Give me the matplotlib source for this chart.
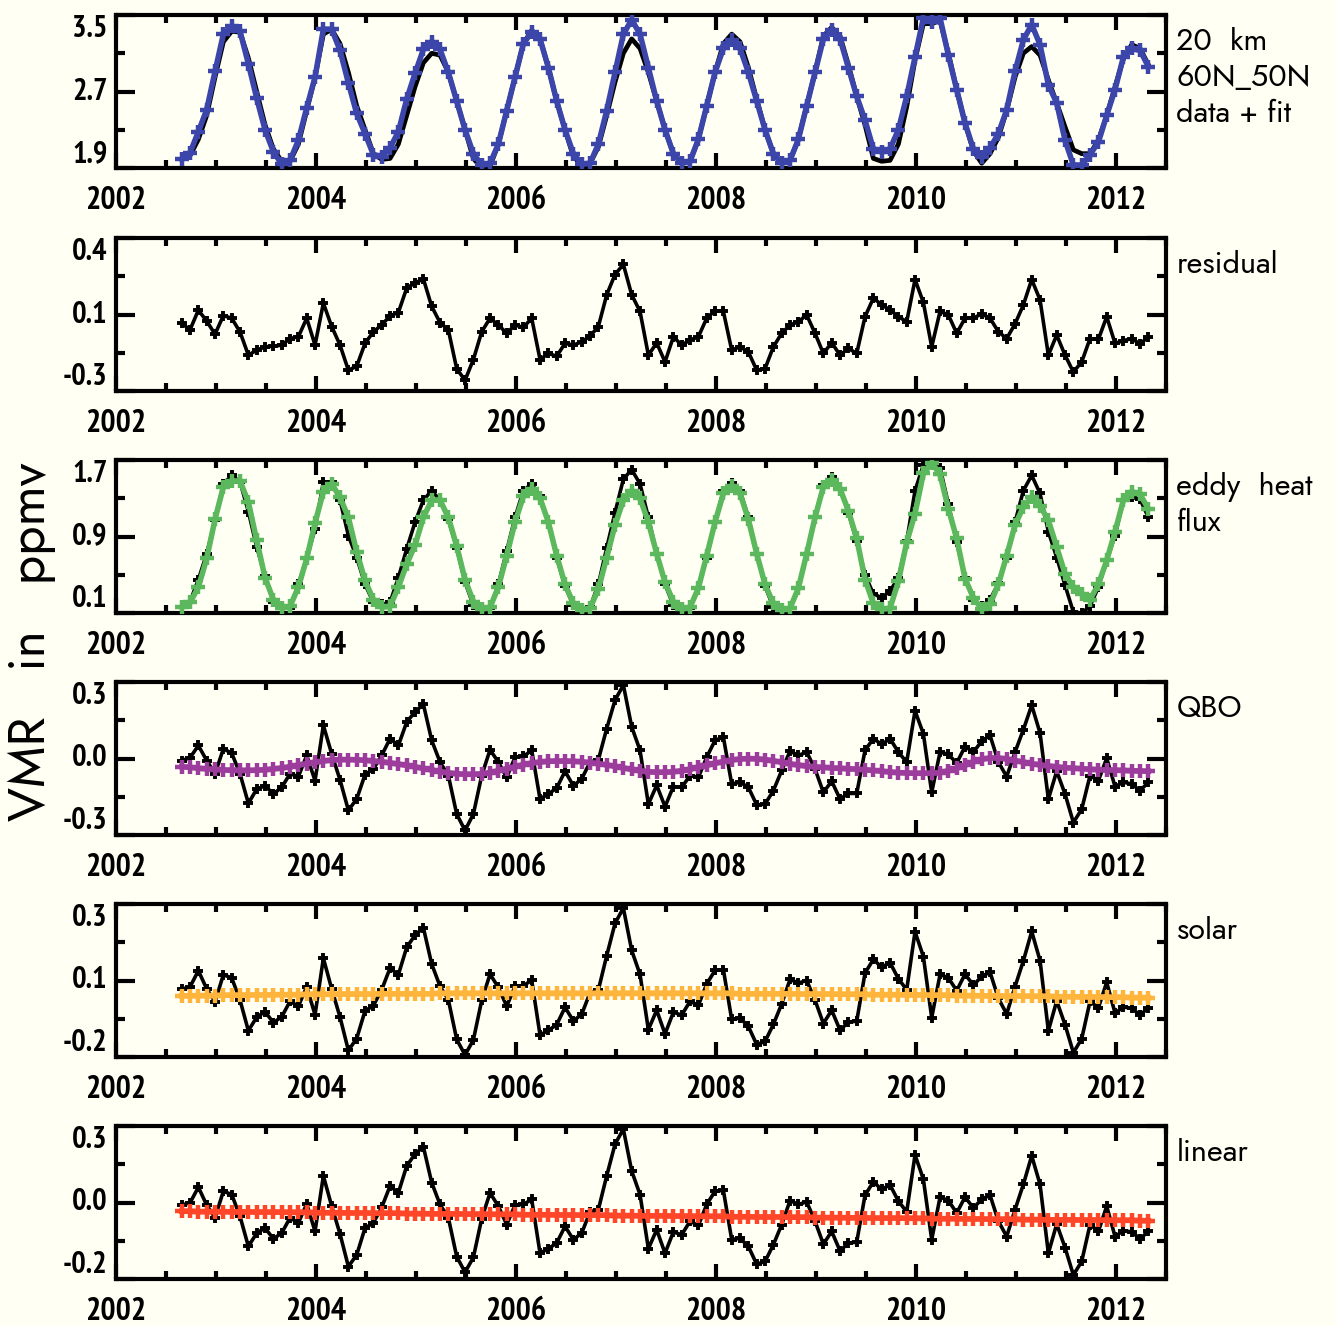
"""Multi-panel regression of 20 km VMR at 60N-50N: data, fit and partial residuals."""
import matplotlib
matplotlib.use("Agg")
import matplotlib.pyplot as plt
import matplotlib.transforms as mtransforms
from matplotlib.ticker import FixedLocator, MultipleLocator, NullFormatter, FormatStrFormatter
import numpy as np

LABEL_FONT = ["PT Sans Narrow", "Fira Sans Condensed", "Barlow Condensed", "DejaVu Sans"]
NOTE_FONT = ["Jost", "Archivo Narrow", "DejaVu Sans"]
plt.rcParams["font.family"] = LABEL_FONT

# ── data (monthly, Aug/Sep 2002 .. May 2012) ───────────────────────
start_year = 2002.657
n_months = 117
dates = start_year + np.arange(n_months) / 12.0

data_20km = [
    1.99, 2.03, 2.20, 2.45, 2.85, 3.22, 3.33, 3.32, 3.05, 2.70,
    2.35, 2.10, 1.97, 1.97, 2.15, 2.50, 2.85, 3.30, 3.35, 3.20,
    2.90, 2.55, 2.30, 2.05, 1.99, 2.00, 2.15, 2.45, 2.75, 3.00,
    3.10, 3.08, 2.90, 2.60, 2.30, 2.00, 1.90, 1.92, 2.15, 2.50,
    2.85, 3.20, 3.34, 3.25, 2.95, 2.60, 2.30, 2.02, 1.93, 1.95,
    2.12, 2.45, 2.80, 3.10, 3.25, 3.15, 2.90, 2.60, 2.30, 2.05,
    1.95, 1.97, 2.20, 2.55, 2.90, 3.20, 3.30, 3.22, 2.95, 2.62,
    2.30, 2.05, 1.95, 1.98, 2.20, 2.55, 2.90, 3.28, 3.37, 3.28,
    2.98, 2.65, 2.35, 2.00, 1.97, 1.98, 2.15, 2.54, 3.03, 3.41,
    3.41, 3.44, 3.10, 2.72, 2.37, 2.08, 1.95, 2.05, 2.22, 2.50,
    2.85, 3.10, 3.17, 3.08, 2.82, 2.58, 2.33, 2.09, 2.05, 2.05,
    2.19, 2.45, 2.75, 3.04, 3.19, 3.15, 2.98,
]
fit_20km = [
    1.99, 2.06, 2.28, 2.51, 2.91, 3.30, 3.38, 3.33, 2.99, 2.63,
    2.30, 2.07, 1.94, 1.98, 2.19, 2.53, 2.85, 3.35, 3.35, 3.13,
    2.79, 2.47, 2.26, 2.04, 2.02, 2.11, 2.28, 2.62, 2.89, 3.14,
    3.22, 3.14, 2.90, 2.60, 2.30, 2.05, 1.93, 1.95, 2.15, 2.50,
    2.85, 3.20, 3.32, 3.25, 2.95, 2.60, 2.30, 2.05, 1.94, 1.95,
    2.15, 2.50, 2.90, 3.30, 3.45, 3.30, 2.95, 2.60, 2.30, 2.05,
    1.95, 1.97, 2.20, 2.55, 2.90, 3.15, 3.24, 3.15, 2.90, 2.60,
    2.30, 2.05, 1.95, 1.98, 2.20, 2.55, 2.90, 3.25, 3.34, 3.25,
    2.95, 2.65, 2.40, 2.10, 2.07, 2.10, 2.30, 2.65, 3.06, 3.47,
    3.43, 3.47, 3.08, 2.72, 2.37, 2.10, 2.02, 2.11, 2.26, 2.51,
    2.91, 3.24, 3.40, 3.19, 2.77, 2.58, 2.19, 1.93, 1.93, 2.04,
    2.17, 2.45, 2.72, 3.06, 3.15, 3.13, 2.96,
]
residual = [
    0.010, -0.020, 0.070, 0.020, -0.040, 0.045, 0.033, -0.030, -0.136, -0.113,
    -0.098, -0.095, -0.090, -0.060, -0.052, 0.033, -0.090, 0.102, -0.005, -0.090,
    -0.205, -0.187, -0.082, -0.029, 0.002, 0.044, 0.059, 0.171, 0.194, 0.213,
    0.087, 0.013, -0.021, -0.198, -0.251, -0.156, -0.029, 0.033, 0.002, -0.036,
    0.002, -0.009, 0.033, -0.156, -0.128, -0.141, -0.082, -0.090, -0.075, -0.049,
    -0.005, 0.140, 0.233, 0.279, 0.140, 0.064, -0.136, -0.080, -0.167, -0.052,
    -0.090, -0.067, -0.052, 0.033, 0.068, 0.064, -0.113, -0.098, -0.121, -0.205,
    -0.198, -0.098, -0.036, 0.002, 0.017, 0.048, -0.036, -0.128, -0.079, -0.136,
    -0.105, -0.128, 0.040, 0.125, 0.094, 0.071, 0.040, 0.017, 0.210, 0.105,
    -0.098, 0.064, 0.048, -0.036, 0.033, 0.033, 0.053, 0.033, -0.029, -0.060,
    0.007, 0.094, 0.210, 0.117, -0.136, -0.044, -0.136, -0.213, -0.167, -0.060,
    -0.064, 0.040, -0.082, -0.070, -0.060, -0.085, -0.052,
]
eddy_partial = [
    0.16, 0.22, 0.45, 0.72, 1.07, 1.45, 1.54, 1.47, 1.16, 0.79,
    0.49, 0.21, 0.17, 0.15, 0.40, 0.67, 0.98, 1.47, 1.47, 1.28,
    0.91, 0.68, 0.40, 0.21, 0.19, 0.21, 0.47, 0.77, 1.05, 1.28,
    1.38, 1.28, 1.08, 0.78, 0.42, 0.18, 0.12, 0.15, 0.40, 0.75,
    1.10, 1.38, 1.45, 1.32, 1.05, 0.68, 0.38, 0.18, 0.12, 0.16,
    0.40, 0.78, 1.15, 1.50, 1.60, 1.45, 1.10, 0.72, 0.40, 0.18,
    0.12, 0.15, 0.36, 0.68, 1.05, 1.38, 1.46, 1.38, 1.10, 0.72,
    0.38, 0.16, 0.11, 0.15, 0.36, 0.72, 1.10, 1.44, 1.52, 1.40,
    1.15, 0.85, 0.50, 0.30, 0.26, 0.33, 0.47, 0.85, 1.38, 1.65,
    1.67, 1.62, 1.24, 0.84, 0.47, 0.24, 0.17, 0.24, 0.41, 0.68,
    1.05, 1.38, 1.54, 1.35, 0.95, 0.68, 0.39, 0.11, 0.10, 0.17,
    0.37, 0.65, 0.91, 1.28, 1.31, 1.29, 1.10,
]
eddy_fit = [
    0.16, 0.21, 0.37, 0.67, 1.08, 1.42, 1.48, 1.48, 1.26, 0.86,
    0.47, 0.24, 0.15, 0.17, 0.37, 0.67, 1.04, 1.37, 1.45, 1.31,
    1.10, 0.74, 0.44, 0.24, 0.16, 0.17, 0.37, 0.61, 0.81, 1.10,
    1.28, 1.28, 1.10, 0.80, 0.45, 0.22, 0.14, 0.16, 0.37, 0.70,
    1.05, 1.32, 1.40, 1.30, 1.05, 0.70, 0.40, 0.20, 0.13, 0.15,
    0.35, 0.68, 1.02, 1.28, 1.38, 1.30, 1.05, 0.72, 0.42, 0.22,
    0.14, 0.16, 0.36, 0.70, 1.05, 1.35, 1.43, 1.35, 1.08, 0.72,
    0.40, 0.20, 0.13, 0.15, 0.36, 0.72, 1.10, 1.42, 1.49, 1.40,
    1.17, 0.88, 0.45, 0.20, 0.14, 0.15, 0.43, 0.84, 1.14, 1.56,
    1.67, 1.55, 1.19, 0.88, 0.46, 0.26, 0.14, 0.19, 0.40, 0.70,
    1.02, 1.21, 1.31, 1.22, 1.07, 0.79, 0.51, 0.37, 0.30, 0.24,
    0.40, 0.65, 0.95, 1.28, 1.37, 1.34, 1.19,
]
qbo_partial = [
    -0.008, 0.003, 0.051, -0.008, -0.060, 0.038, 0.021, -0.060, -0.176, -0.120,
    -0.107, -0.139, -0.113, -0.060, -0.071, 0.012, -0.087, 0.130, 0.018, -0.084,
    -0.203, -0.159, -0.063, -0.041, 0.012, 0.078, 0.051, 0.143, 0.183, 0.213,
    0.071, -0.014, -0.067, -0.218, -0.282, -0.218, -0.067, 0.034, -0.014, -0.074,
    0.005, 0.008, 0.032, -0.159, -0.139, -0.116, -0.050, -0.107, -0.080, -0.014,
    -0.005, 0.117, 0.229, 0.288, 0.124, 0.032, -0.179, -0.105, -0.189, -0.110,
    -0.113, -0.067, -0.074, 0.005, 0.071, 0.084, -0.100, -0.093, -0.113, -0.182,
    -0.179, -0.126, -0.047, 0.029, 0.012, 0.025, -0.041, -0.133, -0.089, -0.159,
    -0.137, -0.137, 0.032, 0.078, 0.055, 0.078, 0.025, -0.014, 0.187, 0.097,
    -0.133, 0.025, 0.016, -0.018, 0.047, 0.025, 0.068, 0.091, -0.014, -0.071,
    0.025, 0.113, 0.209, 0.100, -0.159, -0.050, -0.139, -0.251, -0.199, -0.067,
    -0.087, 0.001, -0.110, -0.093, -0.100, -0.126, -0.093,
]
qbo_fit = [
    -0.032, -0.035, -0.038, -0.041, -0.043, -0.045, -0.046, -0.047, -0.047, -0.046,
    -0.044, -0.041, -0.037, -0.032, -0.026, -0.020, -0.015, -0.010, -0.006, -0.004,
    -0.004, -0.005, -0.007, -0.010, -0.013, -0.017, -0.022, -0.027, -0.033, -0.039,
    -0.045, -0.051, -0.056, -0.060, -0.062, -0.062, -0.060, -0.055, -0.048, -0.040,
    -0.032, -0.024, -0.018, -0.014, -0.011, -0.010, -0.010, -0.011, -0.013, -0.016,
    -0.020, -0.025, -0.031, -0.037, -0.043, -0.048, -0.052, -0.054, -0.054, -0.052,
    -0.048, -0.042, -0.035, -0.027, -0.019, -0.012, -0.006, -0.002, 0.000, -0.001,
    -0.004, -0.009, -0.015, -0.021, -0.026, -0.030, -0.033, -0.035, -0.037, -0.039,
    -0.040, -0.042, -0.044, -0.047, -0.050, -0.053, -0.055, -0.057, -0.058, -0.058,
    -0.058, -0.055, -0.048, -0.038, -0.026, -0.013, -0.003, 0.002, 0.002, -0.002,
    -0.008, -0.014, -0.020, -0.025, -0.029, -0.033, -0.036, -0.038, -0.040, -0.042,
    -0.044, -0.045, -0.046, -0.047, -0.048, -0.049, -0.050,
]
solar_partial = [
    0.035, 0.043, 0.099, 0.036, -0.009, 0.085, 0.074, -0.003, -0.109, -0.062,
    -0.043, -0.081, -0.061, -0.007, -0.024, 0.043, -0.054, 0.142, 0.036, -0.062,
    -0.177, -0.136, -0.040, -0.022, 0.033, 0.108, 0.085, 0.180, 0.222, 0.248,
    0.122, 0.045, -0.002, -0.139, -0.193, -0.141, -0.004, 0.087, 0.041, -0.024,
    0.045, 0.047, 0.066, -0.124, -0.108, -0.088, -0.028, -0.075, -0.052, 0.023,
    0.032, 0.151, 0.263, 0.316, 0.169, 0.086, -0.105, -0.038, -0.120, -0.045,
    -0.055, -0.007, -0.021, 0.053, 0.100, 0.103, -0.070, -0.065, -0.094, -0.157,
    -0.146, -0.087, -0.016, 0.069, 0.056, 0.065, -0.003, -0.084, -0.038, -0.107,
    -0.079, -0.076, 0.091, 0.138, 0.111, 0.127, 0.071, 0.033, 0.234, 0.148,
    -0.064, 0.086, 0.074, 0.030, 0.087, 0.049, 0.079, 0.094, 0.003, -0.051,
    0.044, 0.133, 0.235, 0.134, -0.109, -0.006, -0.088, -0.185, -0.137, -0.007,
    -0.030, 0.059, -0.048, -0.027, -0.031, -0.055, -0.029,
]
solar_fit = [
    0.012, 0.012, 0.013, 0.013, 0.013, 0.014, 0.014, 0.014, 0.015, 0.015,
    0.015, 0.016, 0.016, 0.016, 0.016, 0.017, 0.017, 0.017, 0.017, 0.018,
    0.018, 0.018, 0.018, 0.018, 0.019, 0.019, 0.019, 0.019, 0.019, 0.019,
    0.019, 0.020, 0.020, 0.020, 0.020, 0.020, 0.020, 0.020, 0.020, 0.020,
    0.020, 0.020, 0.020, 0.020, 0.020, 0.020, 0.020, 0.020, 0.020, 0.020,
    0.020, 0.020, 0.020, 0.020, 0.020, 0.020, 0.020, 0.020, 0.020, 0.020,
    0.020, 0.020, 0.020, 0.020, 0.020, 0.020, 0.020, 0.019, 0.019, 0.019,
    0.019, 0.019, 0.019, 0.019, 0.018, 0.018, 0.018, 0.018, 0.018, 0.017,
    0.017, 0.017, 0.017, 0.016, 0.016, 0.016, 0.016, 0.015, 0.015, 0.015,
    0.014, 0.014, 0.014, 0.013, 0.013, 0.013, 0.012, 0.012, 0.012, 0.011,
    0.011, 0.011, 0.010, 0.010, 0.010, 0.009, 0.009, 0.009, 0.008, 0.008,
    0.008, 0.007, 0.007, 0.007, 0.006, 0.006, 0.006,
]
linear_partial = [
    0.021, 0.029, 0.084, 0.021, -0.024, 0.070, 0.058, -0.019, -0.125, -0.078,
    -0.060, -0.098, -0.078, -0.024, -0.042, 0.025, -0.072, 0.124, 0.017, -0.081,
    -0.196, -0.155, -0.060, -0.042, 0.013, 0.088, 0.064, 0.159, 0.201, 0.227,
    0.100, 0.023, -0.024, -0.161, -0.216, -0.164, -0.027, 0.064, 0.017, -0.048,
    0.021, 0.023, 0.041, -0.149, -0.133, -0.113, -0.054, -0.101, -0.078, -0.003,
    0.005, 0.124, 0.236, 0.289, 0.141, 0.058, -0.133, -0.066, -0.149, -0.074,
    -0.084, -0.036, -0.051, 0.023, 0.070, 0.073, -0.101, -0.096, -0.125, -0.188,
    -0.178, -0.119, -0.048, 0.037, 0.023, 0.032, -0.036, -0.117, -0.072, -0.141,
    -0.113, -0.110, 0.056, 0.103, 0.076, 0.092, 0.035, -0.003, 0.198, 0.112,
    -0.101, 0.049, 0.037, -0.007, 0.049, 0.011, 0.041, 0.056, -0.036, -0.090,
    0.005, 0.094, 0.195, 0.094, -0.149, -0.046, -0.129, -0.226, -0.178, -0.048,
    -0.072, 0.017, -0.090, -0.069, -0.074, -0.098, -0.072,
]
linear_fit = [
    -0.001, -0.001, -0.002, -0.002, -0.002, -0.002, -0.003, -0.003, -0.003, -0.004,
    -0.004, -0.004, -0.004, -0.005, -0.005, -0.005, -0.006, -0.006, -0.006, -0.006,
    -0.007, -0.007, -0.007, -0.008, -0.008, -0.008, -0.008, -0.009, -0.009, -0.009,
    -0.010, -0.010, -0.010, -0.010, -0.011, -0.011, -0.011, -0.012, -0.012, -0.012,
    -0.012, -0.013, -0.013, -0.013, -0.013, -0.014, -0.014, -0.014, -0.015, -0.015,
    -0.015, -0.015, -0.016, -0.016, -0.016, -0.017, -0.017, -0.017, -0.017, -0.018,
    -0.018, -0.018, -0.019, -0.019, -0.019, -0.019, -0.020, -0.020, -0.020, -0.021,
    -0.021, -0.021, -0.021, -0.022, -0.022, -0.022, -0.023, -0.023, -0.023, -0.023,
    -0.024, -0.024, -0.024, -0.025, -0.025, -0.025, -0.025, -0.026, -0.026, -0.026,
    -0.027, -0.027, -0.027, -0.027, -0.028, -0.028, -0.028, -0.029, -0.029, -0.029,
    -0.029, -0.030, -0.030, -0.030, -0.031, -0.031, -0.031, -0.031, -0.032, -0.032,
    -0.032, -0.033, -0.033, -0.033, -0.033, -0.034, -0.034,
]

# ── panel settings ─────────────────────────────────────────────────
BG = "#fffff4"
BLUE = "#3c46aa"
GREEN = "#5cb85c"
PURPLE = "#9c3c9c"
ORANGE = "#ffb43c"
RED = "#ff4628"

panels = [
    # ylim, tick labels (bottom, mid, top), note lines
    ((1.9, 3.5), ("1.9", "2.7", "3.5"), ["20  km", "60N_50N", "data + fit"]),
    ((-0.3, 0.4), ("-0.3", "0.1", "0.4"), ["residual"]),
    ((0.1, 1.7), ("0.1", "0.9", "1.7"), ["eddy  heat", "flux"]),
    ((-0.3, 0.3), ("-0.3", "0.0", "0.3"), ["QBO"]),
    ((-0.2, 0.33), ("-0.2", "0.1", "0.3"), ["solar"]),
    ((-0.24, 0.30), ("-0.2", "0.0", "0.3"), ["linear"]),
]

W, H = 1336, 1326
fig = plt.figure(figsize=(W / 100, H / 100), dpi=100, facecolor=BG)

left_px, width_px, height_px = 116, 1050, 153
tops_px = [15, 238, 460, 682, 904, 1126]

axes = []
for top, (ylim, ylabels, notes) in zip(tops_px, panels):
    ax = fig.add_axes([left_px / W, 1 - (top + height_px) / H, width_px / W, height_px / H])
    ax.set_facecolor(BG)
    ax.set_xlim(2002, 2012.5)
    ax.set_ylim(*ylim)
    lo, hi = ylim
    mid = (lo + hi) / 2
    ax.yaxis.set_major_locator(FixedLocator([lo, mid, hi]))
    ax.yaxis.set_minor_locator(FixedLocator([(lo + mid) / 2, (mid + hi) / 2]))
    ax.yaxis.set_major_formatter(NullFormatter())
    ax.xaxis.set_major_locator(MultipleLocator(2))
    ax.xaxis.set_minor_locator(MultipleLocator(0.5))
    ax.xaxis.set_major_formatter(FormatStrFormatter("%d"))
    for s in ax.spines.values():
        s.set_linewidth(3.0)
    ax.tick_params(axis="both", which="both", direction="in", top=True, right=True,
                   width=3.0, color="black")
    ax.tick_params(axis="x", which="major", length=11, pad=13, labelsize=23)
    ax.tick_params(axis="x", which="minor", length=6)
    ax.tick_params(axis="y", which="major", length=14)
    ax.tick_params(axis="y", which="minor", length=6.5)
    for lab in ax.get_xticklabels():
        lab.set_fontweight("bold")

    # y labels flush with the frame, as in the original
    trans = mtransforms.blended_transform_factory(ax.transAxes, ax.transData)
    for val, txt, va in zip((lo, mid, hi), ylabels, ("bottom", "center", "top")):
        ax.text(-0.008, val, txt, transform=trans, ha="right", va=va,
                fontsize=22, fontweight="bold")

    for j, line in enumerate(notes):
        ax.text(1.01, 1 - (27 + 36 * j) / height_px, line, transform=ax.transAxes,
                ha="left", va="center", fontsize=22, family=NOTE_FONT)
    axes.append(ax)

blk = dict(color="black", lw=2.6, marker="+", ms=7.5, mew=2.8, zorder=2)
col = dict(lw=4.0, marker="+", ms=10, mew=3.2, zorder=3)

axes[0].plot(dates, data_20km, color="black", lw=3.4, zorder=2)
axes[0].plot(dates, fit_20km, color=BLUE, **col)
axes[1].plot(dates, residual, **blk)
axes[2].plot(dates, eddy_partial, **blk)
axes[2].plot(dates, eddy_fit, color=GREEN, **col)
axes[3].plot(dates, qbo_partial, **blk)
axes[3].plot(dates, qbo_fit, color=PURPLE, **col)
axes[4].plot(dates, solar_partial, **blk)
axes[4].plot(dates, solar_fit, color=ORANGE, **col)
axes[5].plot(dates, linear_partial, **blk)
axes[5].plot(dates, linear_fit, color=RED, **col)

fig.text(0.0225, 0.516, "VMR   in   ppmv", rotation=90, ha="center", va="center",
         fontsize=37, family=NOTE_FONT)

fig.savefig("out.png", dpi=100, facecolor=BG)
